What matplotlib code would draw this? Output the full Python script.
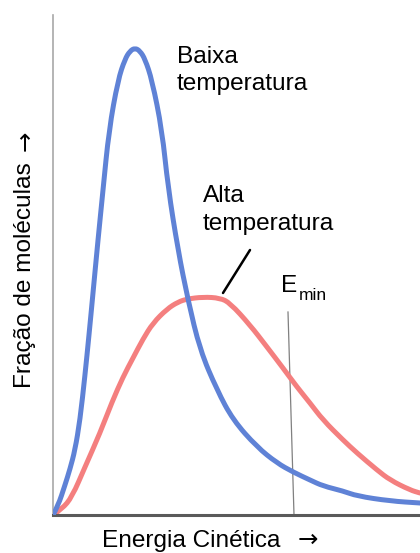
import matplotlib
matplotlib.use("Agg")
import matplotlib.pyplot as plt
from matplotlib.path import Path
from matplotlib.patches import PathPatch

plt.rcParams['font.family'] = ['Liberation Sans', 'DejaVu Sans']

# Values (arbitrary units)
energy_low = [0, 5, 12, 17, 22, 27, 32, 36, 40, 45, 50, 56, 65, 72, 77, 82, 87, 92,
              99, 109, 115, 125, 135, 147, 164, 180, 204, 224, 240, 257, 270, 290,
              304, 337, 367]
frac_low = [0, 9, 30, 46, 65, 95, 140, 180, 222, 275, 325, 385, 435, 456, 464, 467,
            464, 456, 435, 385, 328, 265, 215, 165, 125, 95, 68, 52, 43, 35, 29, 24,
            19, 14, 12]

energy_high = [0, 9, 19, 32, 47, 59, 70, 80, 90, 100, 114, 125, 134, 150, 167, 177,
               197, 214, 230, 244, 257, 270, 290, 304, 324, 337, 357, 367]
frac_high = [0, 6, 18, 48, 82, 113, 138, 157, 176, 192, 206, 213, 216, 218, 217, 212,
             190, 168, 147, 128, 112, 95, 75, 62, 45, 35, 25, 22]

emin_energy = [235, 241]
emin_frac = [203, 0]

label_low = ["Baixa", "temperatura"]
label_high = ["Alta", "temperatura"]
xlabel = "Energia Cinética"
ylabel = "Fração de moléculas"
arrow = "→"


def smooth_path(xs, ys):
    pts = list(zip(xs, ys))
    verts = [pts[0]]
    codes = [Path.MOVETO]
    for i in range(1, len(pts) - 1):
        mid = ((pts[i][0] + pts[i + 1][0]) / 2, (pts[i][1] + pts[i + 1][1]) / 2)
        verts += [pts[i], mid]
        codes += [Path.CURVE3, Path.CURVE3]
    verts.append(pts[-1])
    codes.append(Path.LINETO)
    return Path(verts, codes)


W, H = 420, 553
fig = plt.figure(figsize=(W / 100, H / 100), dpi=100)
ax = fig.add_axes([53 / W, (H - 515) / H, (420 - 53) / W, (515 - 15) / H])
ax.set_xlim(0, 367)
ax.set_ylim(0, 500)

ax.add_patch(PathPatch(smooth_path(energy_high, frac_high), fill=False,
                       edgecolor='#f47f7f', lw=3.6, capstyle='round',
                       joinstyle='round', zorder=2))
ax.add_patch(PathPatch(smooth_path(energy_low, frac_low), fill=False,
                       edgecolor='#5f82d6', lw=3.6, capstyle='round',
                       joinstyle='round', zorder=3))
ax.plot(emin_energy, emin_frac, color='#808080', lw=0.9, zorder=1)

# pointer line for "Alta temperatura"
ax.annotate("", xy=(170, 222), xytext=(197, 265),
            arrowprops=dict(arrowstyle='-', color='black', lw=1.8,
                            shrinkA=0, shrinkB=0))

fs = 17.6
ax.text(124, 452, label_low[0], fontsize=fs, ha='left', va='baseline')
ax.text(124, 425, label_low[1], fontsize=fs, ha='left', va='baseline')
ax.text(150, 313, label_high[0], fontsize=fs, ha='left', va='baseline')
ax.text(150, 285, label_high[1], fontsize=fs, ha='left', va='baseline')
ax.text(228, 223, "E", fontsize=fs, ha='left', va='baseline')
ax.text(246, 215, "min", fontsize=12.5, ha='left', va='baseline')

for s in ['top', 'right']:
    ax.spines[s].set_visible(False)
ax.spines['left'].set_color('#a8a8a8')
ax.spines['left'].set_linewidth(1.2)
ax.spines['bottom'].set_color('#5a5a5a')
ax.spines['bottom'].set_linewidth(2.2)
ax.set_xticks([])
ax.set_yticks([])
ax.patch.set_alpha(0)

fig.text(102 / W, (H - 547) / H, xlabel, fontsize=fs, ha='left', va='baseline')
fig.text(298 / W, (H - 547) / H, arrow, fontsize=fs, ha='left', va='baseline',
         family='DejaVu Sans')
fig.text(25 / W, (H - 275) / H, ylabel, fontsize=fs, rotation=90,
         ha='center', va='center')
fig.text(25 / W, (H - 141) / H, arrow, fontsize=fs, rotation=90,
         ha='center', va='center', family='DejaVu Sans')

fig.savefig("out.png", dpi=100, facecolor='white')
